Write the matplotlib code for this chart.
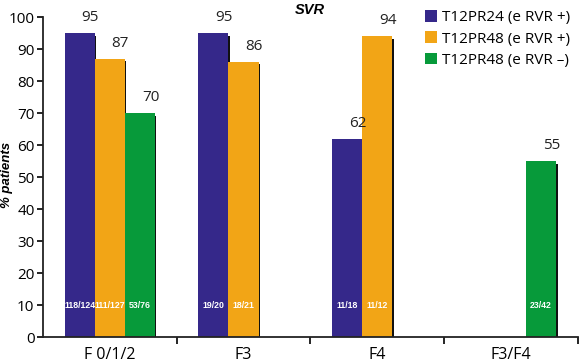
import numpy as np
import matplotlib.pyplot as plt
from matplotlib.patches import Patch

# ---------------------------
# DATA
# ---------------------------
groups = ["F 0/1/2", "F3", "F4", "F3/F4"]
series = ["T12PR24 (e RVR +)", "T12PR48 (e RVR +)", "T12PR48 (e RVR \u2013)"]
colors = ["#35288a", "#f2a516", "#079a3a"]

# None = bar not shown in that group
svr = [
    [95, 95, 62, None],
    [87, 86, 94, None],
    [70, None, None, 55],
]
counts = [
    ["118/124", "19/20", "11/18", None],
    ["111/127", "18/21", "11/12", None],
    ["53/76", None, None, "23/42"],
]

plt.rcParams["font.family"] = ["Open Sans", "DejaVu Sans"]

fig = plt.figure(figsize=(5.79, 3.64), dpi=100)
ax = fig.add_axes([0.074, 0.074, 0.924, 0.879])

width = 0.225
offsets = [-width, 0, width]
x = np.arange(len(groups))

for s in range(len(series)):
    for g in range(len(groups)):
        v = svr[s][g]
        if v is None:
            continue
        xc = x[g] + offsets[s]
        # thin dark shadow on right edge
        ax.bar(xc + 0.012, v - 0.8, width, bottom=0, color="#111111", zorder=1)
        ax.bar(xc, v, width, color=colors[s], zorder=2)
        ax.text(xc + 0.08, v + 2.5, str(v), ha="center", va="bottom",
                fontsize=11, color="#222222", zorder=3)
        ax.text(xc, 10, counts[s][g], ha="center", va="center",
                fontsize=6.3, color="white", fontweight="bold",
                family=["Liberation Sans", "DejaVu Sans"], zorder=3)

ax.set_xlim(-0.5, len(groups) - 0.5)
ax.set_ylim(0, 100)
ax.set_yticks(np.arange(0, 101, 10))
ax.set_xticks(x)
ax.set_xticklabels(groups)
ax.set_xticks(np.arange(0.5, len(groups), 1), minor=True)
ax.tick_params(axis="x", which="major", length=0, labelsize=11.5, pad=7)
ax.tick_params(axis="x", which="minor", length=5, width=1.2)
ax.tick_params(axis="y", labelsize=11, length=4, width=1.2, pad=2)
for side in ["top", "right"]:
    ax.spines[side].set_visible(False)
for side in ["left", "bottom"]:
    ax.spines[side].set_linewidth(1.3)
    ax.spines[side].set_color("#222222")

fig.text(0.012, 0.52, "% patients", rotation=90, ha="center", va="center",
         fontsize=9.5, fontweight="bold", style="italic",
         family=["Liberation Sans", "DejaVu Sans"])
fig.text(0.535, 0.972, "SVR", ha="center", va="center", fontsize=10.5,
         fontweight="bold", style="italic",
         family=["Liberation Sans", "DejaVu Sans"])

handles = [Patch(facecolor=c) for c in colors]
fig.legend(handles, series, loc="upper left", bbox_to_anchor=(0.71, 1.01),
           frameon=False, fontsize=11, handlelength=0.8, handleheight=0.8,
           handletextpad=0.3, labelspacing=0.4)

fig.savefig("out.png", dpi=100)
